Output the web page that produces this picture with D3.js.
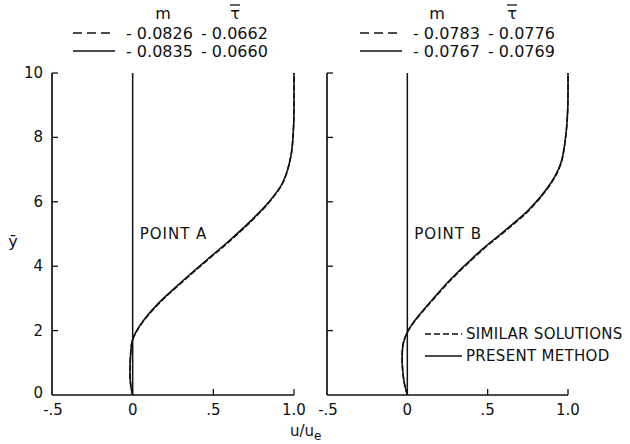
<!DOCTYPE html>
<html>
<head>
<meta charset="utf-8">
<script src="https://cdn.jsdelivr.net/npm/d3@7"></script>
<style>
  body { margin: 0; background: #fff; }
  text { font-family: "DejaVu Sans", sans-serif; fill: #111; }
</style>
</head>
<body>
<svg id="chart" width="630" height="444"></svg>
<script>
// y-bar positions of the read-off points (profile through the layer)
const yA = [0, 0.3, 0.6, 1.0, 1.4, 1.7, 2.0, 2.4, 2.9, 3.5, 4.2, 4.8, 5.4, 6.0, 6.6, 7.4, 8.3, 9.2, 10];
const uPresentA = [0, -0.012, -0.016, -0.015, -0.01, -0.002, 0.025, 0.08, 0.17, 0.30, 0.46, 0.60, 0.73, 0.845, 0.93, 0.98, 0.997, 1.0, 1.0];
const uSimilarA = [0, -0.012, -0.017, -0.016, -0.011, -0.002, 0.027, 0.083, 0.174, 0.305, 0.466, 0.606, 0.735, 0.848, 0.932, 0.98, 0.997, 1.0, 1.0];

const yB = [0, 0.4, 0.87, 1.2, 1.6, 1.95, 2.27, 2.64, 2.9, 3.57, 4.5, 5.1, 5.75, 6.6, 7.2, 8.0, 8.85, 10];
const uPresentB = [0, -0.02, -0.03, -0.032, -0.025, 0, 0.04, 0.10, 0.145, 0.265, 0.46, 0.605, 0.755, 0.895, 0.955, 0.985, 0.998, 1.0];
const uSimilarB = [0, -0.02, -0.031, -0.033, -0.026, 0, 0.042, 0.103, 0.149, 0.27, 0.466, 0.611, 0.76, 0.898, 0.957, 0.985, 0.998, 1.0];

const yTicks = [0, 2, 4, 6, 8, 10];
const xTicks = [-0.5, 0, 0.5, 1.0];
const xTickLabels = ["-.5", "0", ".5", "1.0"];

const mA = ["- 0.0826", "- 0.0835"];
const tauA = ["- 0.0662", "- 0.0660"];
const mB = ["- 0.0783", "- 0.0767"];
const tauB = ["- 0.0776", "- 0.0769"];

const svg = d3.select("#chart");

const y = d3.scaleLinear().domain([0, 10]).range([395, 73]);

const panels = [
  { x0: 52, x1: 294, yv: yA, present: uPresentA, similar: uSimilarA, label: "POINT A", m: mA, tau: tauA,
    legX: 73, mX: 163, tauX: 235, yLabels: true },
  { x0: 327, x1: 568, yv: yB, present: uPresentB, similar: uSimilarB, label: "POINT B", m: mB, tau: tauB,
    legX: 360, mX: 437, tauX: 512, yLabels: false }
];

panels.forEach(p => {
  const x = d3.scaleLinear().domain([-0.5, 1.0]).range([p.x0, p.x1]);
  const g = svg.append("g");

  // frame: left axis + bottom axis
  g.append("line").attr("x1", x(-0.5)).attr("x2", x(-0.5)).attr("y1", y(0)).attr("y2", y(10))
    .attr("stroke", "#111").attr("stroke-width", 1.7);
  g.append("line").attr("x1", x(-0.5)).attr("x2", x(1.0)).attr("y1", y(0)).attr("y2", y(0))
    .attr("stroke", "#111").attr("stroke-width", 1.7);

  // inward ticks on y
  g.selectAll(".yt").data(yTicks.filter(d => d > 0)).enter().append("line")
    .attr("x1", x(-0.5)).attr("x2", x(-0.5) + 6)
    .attr("y1", d => y(d)).attr("y2", d => y(d))
    .attr("stroke", "#111").attr("stroke-width", 1.3);
  // inward ticks on x
  g.selectAll(".xt").data([0.5, 1.0]).enter().append("line")
    .attr("x1", d => x(d)).attr("x2", d => x(d))
    .attr("y1", y(0)).attr("y2", y(0) - 6)
    .attr("stroke", "#111").attr("stroke-width", 1.3);

  if (p.yLabels) {
    g.selectAll(".yl").data(yTicks).enter().append("text")
      .attr("x", x(-0.5) - 9).attr("y", d => y(d) + (d === 0 ? 3 : 5))
      .attr("text-anchor", "end").attr("font-size", 15)
      .text(d => d);
  }
  g.selectAll(".xl").data(xTicks).enter().append("text")
    .attr("x", (d, i) => x(d) + (i === 0 ? 1 : 0)).attr("y", y(0) + 20)
    .attr("text-anchor", "middle").attr("font-size", 15)
    .text((d, i) => xTickLabels[i]);

  // wall line u = 0
  g.append("line").attr("x1", x(0)).attr("x2", x(0)).attr("y1", y(0)).attr("y2", y(10))
    .attr("stroke", "#111").attr("stroke-width", 1.5);

  const line = vals => d3.line()
    .x((d, i) => x(vals[i]))
    .y(d => y(d))
    .curve(d3.curveCatmullRom.alpha(0.5))(p.yv);

  g.append("path").attr("d", line(p.similar)).attr("fill", "none")
    .attr("stroke", "#111").attr("stroke-width", 1.6).attr("stroke-dasharray", "6,2");
  g.append("path").attr("d", line(p.present)).attr("fill", "none")
    .attr("stroke", "#111").attr("stroke-width", 1.5);

  g.append("text").attr("x", x(0) + 7).attr("y", 239).attr("font-size", 15)
    .attr("letter-spacing", 1).text(p.label);

  // legend header
  g.append("text").attr("x", p.mX).attr("y", 19).attr("text-anchor", "middle").attr("font-size", 16).text("m");
  g.append("text").attr("x", p.tauX).attr("y", 19).attr("text-anchor", "middle").attr("font-size", 16).text("τ");
  g.append("line").attr("x1", p.tauX - 5).attr("x2", p.tauX + 5).attr("y1", 5).attr("y2", 5)
    .attr("stroke", "#111").attr("stroke-width", 1.3);

  [0, 1].forEach(i => {
    const ry = 33 + i * 18;
    g.append("line").attr("x1", p.legX).attr("x2", p.legX + 42).attr("y1", ry).attr("y2", ry)
      .attr("stroke", "#111").attr("stroke-width", 1.5)
      .attr("stroke-dasharray", i === 0 ? "9,5" : null);
    g.append("text").attr("x", p.legX + 53).attr("y", ry + 6).attr("font-size", 16).text(p.m[i]);
    g.append("text").attr("x", p.legX + 128).attr("y", ry + 6).attr("font-size", 16).text(p.tau[i]);
  });
});

// y label
svg.append("text").attr("x", 13).attr("y", 247).attr("text-anchor", "middle").attr("font-size", 16).text("ȳ");

// x label
const xl = svg.append("text").attr("x", 290).attr("y", 436).attr("font-size", 15);
xl.append("tspan").text("u/u");
xl.append("tspan").attr("dy", 4).attr("font-size", 12).text("e");

// bottom-right legend
const leg = svg.append("g");
[["SIMILAR SOLUTIONS", "6,3"], ["PRESENT METHOD", null]].forEach((d, i) => {
  const ly = 334 + i * 22;
  leg.append("line").attr("x1", 425).attr("x2", 462).attr("y1", ly).attr("y2", ly)
    .attr("stroke", "#111").attr("stroke-width", 1.5).attr("stroke-dasharray", d[1]);
  leg.append("text").attr("x", 466).attr("y", ly + 5).attr("font-size", 15)
    .attr("letter-spacing", 0.3).text(d[0]);
});
</script>
</body>
</html>
